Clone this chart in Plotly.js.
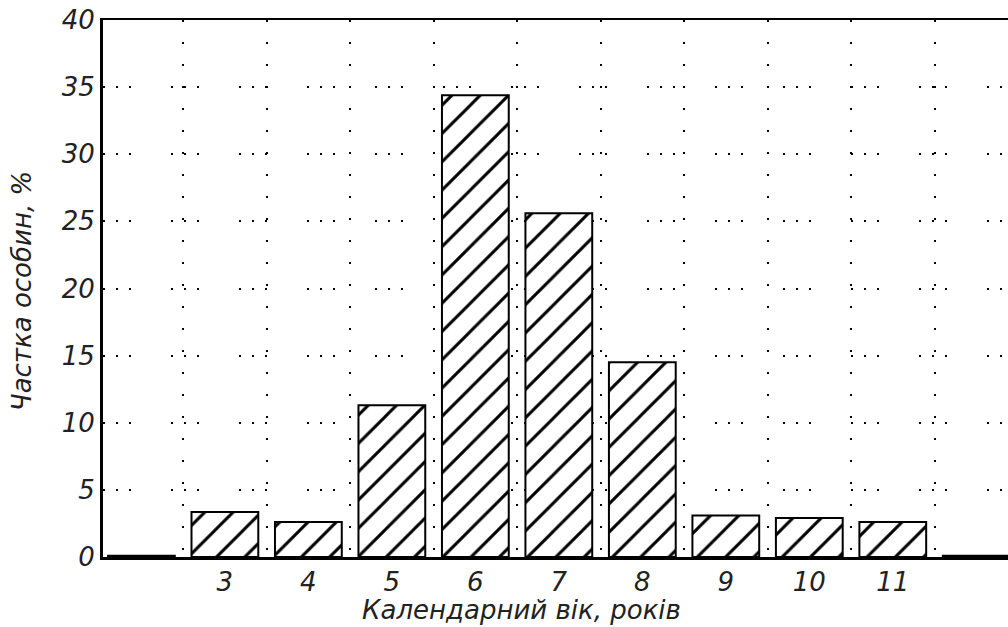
<!DOCTYPE html>
<html>
<head>
<meta charset="utf-8">
<script src="https://cdn.plot.ly/plotly-3.0.1.min.js"></script>
<style>html,body{margin:0;padding:0;background:#fff;overflow:hidden;}#chart{width:1008px;height:627px;}</style>
</head>
<body>
<div id="chart"></div>
<script>
// Age categories (years) and share of individuals (%)
const ages = [2, 3, 4, 5, 6, 7, 8, 9, 10, 11, 12];
const shares = [0.1, 3.35, 2.6, 11.3, 34.4, 25.6, 14.5, 3.1, 2.9, 2.6, 0.1];
const tickAges = [3, 4, 5, 6, 7, 8, 9, 10, 11];
const tickLabels = ['3', '4', '5', '6', '7', '8', '9', '10', '11'];
const yTicks = [0, 5, 10, 15, 20, 25, 30, 35, 40];
const xTitle = 'Календарний вік, років';
const yTitle = 'Частка особин, %';

const gridX = ages.slice(0, -1).map(a => a + 0.5);

const tickFont = {family: 'DejaVu Sans, sans-serif', style: 'italic', color: '#222', size: 26};
const titleFont = {family: 'DejaVu Sans, sans-serif', style: 'italic', color: '#222', size: 26};

const trace = {
  type: 'bar',
  x: ages,
  y: shares,
  width: 0.8,
  marker: {
    color: '#ffffff',
    line: {color: '#000', width: 2},
    pattern: {shape: '/', size: 20, solidity: 0.15, fgcolor: '#000', fgopacity: 1, bgcolor: '#fff', fillmode: 'overlay'}
  },
  hoverinfo: 'x+y'
};

const layout = {
  width: 1008, height: 627,
  margin: {l: 103, r: 0, t: 20, b: 70},
  paper_bgcolor: '#fff', plot_bgcolor: '#fff',
  showlegend: false,
  xaxis: {
    range: [1.54, 12.38],
    tickvals: tickAges, ticktext: tickLabels,
    ticks: '', showgrid: false, zeroline: false,
    showline: true, linecolor: '#000', linewidth: 2.5, mirror: true,
    tickfont: tickFont,
    minor: {tickvals: gridX, showgrid: true, gridcolor: '#000', gridwidth: 2, griddash: '2px,20px', ticks: ''}
  },
  yaxis: {
    range: [0, 40],
    tickvals: yTicks,
    ticks: '', showgrid: true, gridcolor: '#000', gridwidth: 2, griddash: '2px,11px,2px,11px,2px,40px',
    zeroline: false,
    showline: true, linecolor: '#000', linewidth: 3, mirror: false,
    tickfont: tickFont
  },
  annotations: [
    {
      text: xTitle, font: titleFont, showarrow: false,
      xref: 'paper', yref: 'paper', x: 0.462, y: 0, yshift: -53,
      xanchor: 'center', yanchor: 'middle'
    },
    {
      text: yTitle, font: titleFont, showarrow: false, textangle: -90,
      xref: 'paper', yref: 'paper', x: 0, y: 0.495, xshift: -81,
      xanchor: 'center', yanchor: 'middle'
    }
  ]
};

Plotly.newPlot('chart', [trace], layout, {displayModeBar: false, staticPlot: true});
</script>
</body>
</html>
